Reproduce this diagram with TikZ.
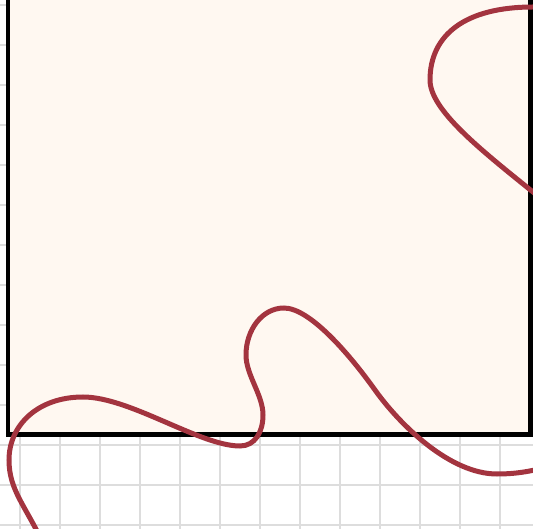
\documentclass[tikz,border=0pt]{standalone}
\definecolor{gridgray}{HTML}{DDDDDD}
\definecolor{paper}{HTML}{FFF8F1}
\definecolor{curvered}{HTML}{A3343F}
\tikzset{
  gridline/.style={draw=gridgray, line width=2pt},
  panel/.style={fill=paper, draw=black, line width=4.5pt},
  wave/.style={draw=curvered, line width=5pt, line cap=round}
}
\begin{document}
\begin{tikzpicture}[x=1pt,y=-1pt]
\useasboundingbox (0,0) rectangle (533,529);
\clip (0,0) rectangle (533,529);
\fill[white] (0,0) rectangle (533,529);
% grid
\foreach \gx in {20,60,...,500} \draw[gridline] (\gx,-5) -- (\gx,535);
\foreach \gy in {5,45,...,525} \draw[gridline] (-5,\gy) -- (540,\gy);
% panel
\draw[panel] (8,-20) rectangle (530.5,434.5);
% curve
\draw[wave] (44,545) .. controls (25,505) and (9,490) .. (9,460)
  .. controls (9,425) and (38,397) .. (83,397)
  .. controls (130,397) and (200,446) .. (240,446)
  .. controls (255,446) and (263,432) .. (263,415)
  .. controls (263,395) and (246,375) .. (246,355)
  .. controls (246,330) and (262,308) .. (284,308)
  .. controls (310,308) and (350,355) .. (375,390)
  .. controls (400,425) and (450,474) .. (497,474)
  .. controls (520,474) and (540,470) .. (560,462)
  .. controls (650,420) and (590,238) .. (533,192)
  .. controls (481,150) and (430,110) .. (430,80)
  .. controls (430,35) and (465,7) .. (533,7)
  -- (560,7);
\end{tikzpicture}
\end{document}
